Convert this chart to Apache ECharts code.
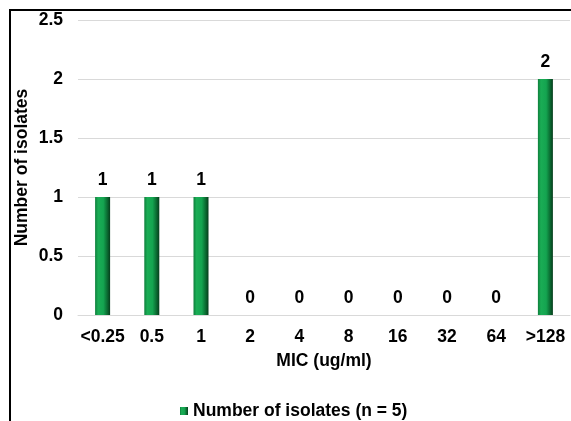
<!DOCTYPE html>
<html><head><meta charset="utf-8">
<script src="https://cdn.jsdelivr.net/npm/echarts@6/dist/echarts.min.js"></script>
<style>html,body{margin:0;padding:0;background:#fff}#c{width:571px;height:421px}</style>
</head><body><div id="c"></div>
<script>
const categories = ['<0.25','0.5','1','2','4','8','16','32','64','>128'];
const isolates = [1,1,1,0,0,0,0,0,0,2];
const yTicks = [0,0.5,1,1.5,2,2.5];
const seriesName = 'Number of isolates (n = 5)';

const font = 'Liberation Sans, Arial, sans-serif';
const fs = 17.5;
const chart = echarts.init(document.getElementById('c'), null, {renderer:'canvas'});
const barColor = new echarts.graphic.LinearGradient(0,0,1,0,[
  {offset:0, color:'#0e7f3c'},
  {offset:0.2, color:'#1aad55'},
  {offset:0.55, color:'#14a450'},
  {offset:0.8, color:'#0b6d33'},
  {offset:1, color:'#053d1b'}
]);
chart.setOption({
  animation:false,
  grid:{left:78, right:1, top:20, bottom:106, containLabel:false},
  xAxis:{
    type:'category', data:categories,
    axisLine:{show:true, lineStyle:{color:'#d9d9d9', width:1}},
    axisTick:{show:false},
    axisLabel:{interval:0, color:'#000', fontWeight:'bold', fontSize:fs, fontFamily:font, margin:13},
    name:'MIC (ug/ml)', nameLocation:'middle', nameGap:37, nameMoveOverlap:false,
    nameTextStyle:{color:'#000', fontWeight:'bold', fontSize:fs, fontFamily:font}
  },
  yAxis:{
    type:'value', min:yTicks[0], max:yTicks[yTicks.length-1], interval:yTicks[1]-yTicks[0],
    axisLine:{show:false}, axisTick:{show:false},
    splitLine:{lineStyle:{color:'#d9d9d9', width:1}},
    axisLabel:{color:'#000', fontWeight:'bold', fontSize:fs, fontFamily:font, margin:15,
      formatter:v=>String(v)},
    name:'Number of isolates', nameLocation:'middle', nameGap:47, nameMoveOverlap:false,
    nameTextStyle:{color:'#000', fontWeight:'bold', fontSize:fs, fontFamily:font}
  },
  legend:{
    bottom:1, left:180, padding:0, itemWidth:8, itemHeight:8, itemGap:5,
    icon:'rect',
    textStyle:{color:'#000', fontWeight:'bold', fontSize:fs, fontFamily:font},
    data:[seriesName]
  },
  series:[{
    name:seriesName, type:'bar', data:isolates, barWidth:15,
    itemStyle:{color:barColor},
    label:{show:true, position:'top', distance:8, color:'#000', fontWeight:'bold', fontSize:fs, fontFamily:font}
  }],
  graphic:[
    {type:'line', shape:{x1:9, y1:10, x2:571, y2:10}, style:{stroke:'#000', lineWidth:2}, z:100},
    {type:'line', shape:{x1:10, y1:9, x2:10, y2:421}, style:{stroke:'#000', lineWidth:2}, z:100}
  ]
});
</script></body></html>
